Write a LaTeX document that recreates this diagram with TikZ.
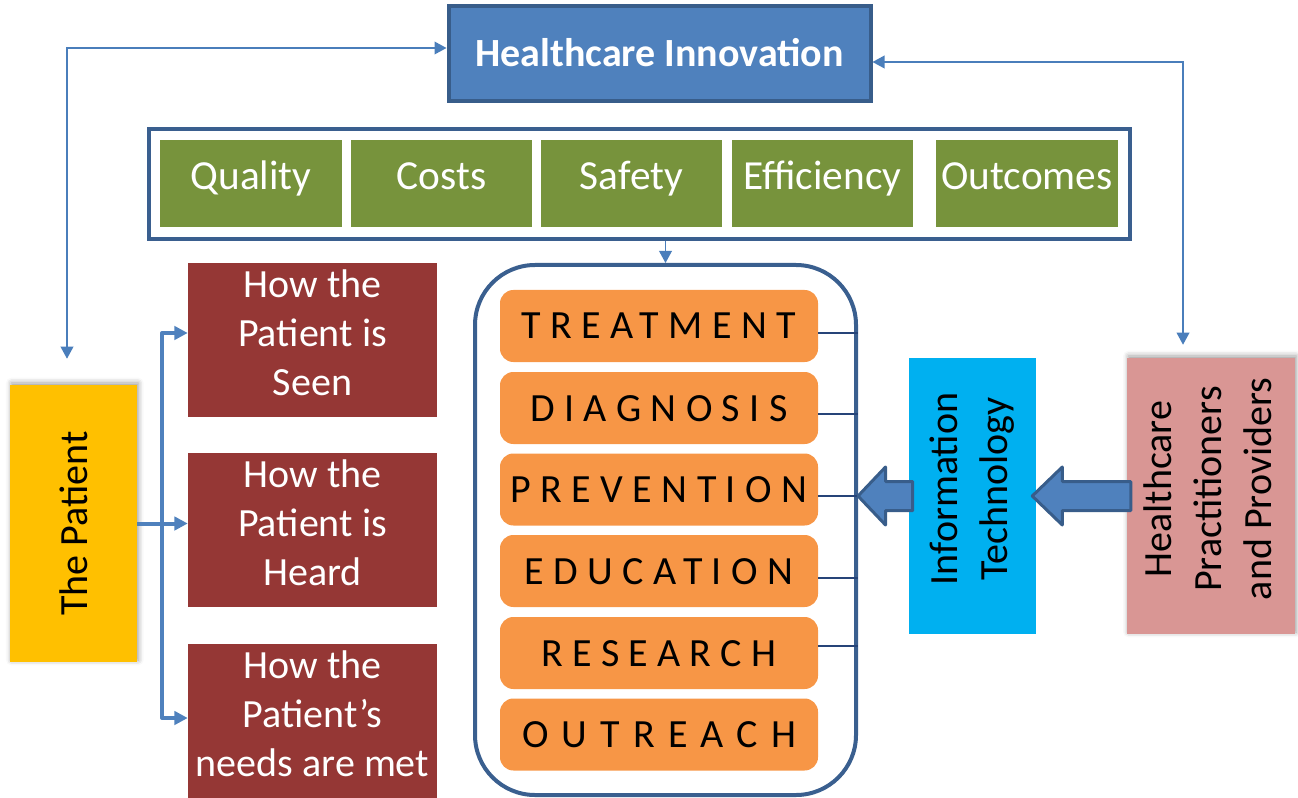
\documentclass[tikz,border=0pt]{standalone}
\usepackage{fontspec}
\setmainfont{Carlito}
\newfontfamily\spacedfont[LetterSpace=23.5]{Carlito}
\newfontfamily\widefont[LetterSpace=33]{Carlito}
\usetikzlibrary{arrows.meta,calc,shadows.blur}
\definecolor{hiblue}{HTML}{4F81BD}
\definecolor{darkblue}{HTML}{385D8A}
\definecolor{framecol}{HTML}{3A5F8F}
\definecolor{qgreen}{HTML}{77933C}
\definecolor{qred}{HTML}{953735}
\definecolor{qorange}{HTML}{F79646}
\definecolor{qcyan}{HTML}{00B0F0}
\definecolor{qpink}{HTML}{D99694}
\definecolor{qyellow}{HTML}{FFC000}
\definecolor{linecol}{HTML}{4A7EBB}
\definecolor{navyline}{HTML}{264478}
\tikzset{
  hibox/.style={fill=hiblue,draw=darkblue,line width=3pt,text=white,inner sep=0pt,
    font=\fontsize{30}{36}\selectfont\bfseries,text height=19.5pt,text depth=0pt},
  framebox/.style={draw=framecol,line width=3pt,fill=white,inner sep=0pt},
  metric/.style={fill=qgreen,text=white,font=\fontsize{31}{37}\selectfont,inner sep=0pt,
    text height=21pt,text depth=11.25pt,minimum height=87*0.75pt},
  bigbox/.style={draw=framecol,line width=3pt,rounded corners=45pt,inner sep=0pt},
  area/.style={fill=qorange,rounded corners=10pt,inner sep=0pt,
    minimum width=318*0.75pt,minimum height=72*0.75pt,
    font=\spacedfont\fontsize{30}{36}\selectfont,text height=19.5pt,text depth=0pt},
  widearea/.style={area,font=\widefont\fontsize{30}{36}\selectfont},
  howbox/.style={fill=qred,text=white,align=center,inner sep=0pt,
    minimum width=249*0.75pt,minimum height=154*0.75pt,
    font=\fontsize{30}{36.75}\selectfont,text depth=10.5pt},
  sidebox/.style={font=\fontsize{30}{37.5}\selectfont,inner sep=0pt},
  softshadow/.style={blur shadow={shadow xshift=1pt,shadow yshift=1.5pt,
    shadow blur radius=4pt,shadow opacity=40}},
  thinline/.style={draw=linecol,line width=1.1pt},
  thinboth/.style={thinline,arrows={Triangle[length=9pt,width=9.5pt]-Triangle[length=9pt,width=9.5pt]}},
  thinend/.style={thinline,arrows={-Triangle[length=9pt,width=9.5pt]}},
  fatline/.style={draw=hiblue,line width=3pt,line join=round},
  fatarrow/.style={fatline,arrows={-Triangle[length=10pt,width=10pt]}},
  blockarrow/.style={fill=hiblue,draw=darkblue,line width=2.25pt,line join=round},
  linkline/.style={draw=navyline,line width=1.1pt}
}
\begin{document}
\begin{tikzpicture}[x=0.75pt,y=-0.75pt]
\useasboundingbox (0,0) rectangle (1298,798);

% top box
\node[hibox,minimum width=422*0.75pt,minimum height=95*0.75pt] (hi) at (659.5,53.5) {Healthcare Innovation};

% metrics frame
\node[framebox,minimum width=980.5*0.75pt,minimum height=110*0.75pt] (frame) at (639.25,184) {};
\node[metric,minimum width=182*0.75pt] (m1) at (251,183.5) {Quality};
\node[metric,minimum width=181*0.75pt] (m2) at (441.5,183.5) {Costs};
\node[metric,minimum width=181*0.75pt] (m3) at (631.5,183.5) {Safety};
\node[metric,minimum width=181*0.75pt] (m4) at (822.5,183.5) {Efficiency};
\node[metric,minimum width=182*0.75pt] (m5) at (1027,183.5) {Outcomes};

% big rounded box with areas
\node[bigbox,minimum width=381*0.75pt,minimum height=530*0.75pt] (big) at (665.5,530) {};
\node[area] (o1) at (659,326) {TREATMENT};
\node[area] (o2) at (659,408) {DIAGNOSIS};
\node[area] (o3) at (659,489.5) {PREVENTION};
\node[area] (o4) at (659,571) {EDUCATION};
\node[area] (o5) at (659,653) {RESEARCH};
\node[widearea] (o6) at (659,734.5) {OUTREACH};

\coordinate (k1) at ($(o1.east)+(0,7)$);
\coordinate (k2) at ($(o2.east)+(0,6)$);
\coordinate (k3) at ($(o3.east)+(0,6.5)$);
\coordinate (k4) at ($(o4.east)+(0,7)$);
\coordinate (k5) at ($(o5.east)+(0,-7)$);
\draw[linkline] (k1) -- (k1 -| big.east);
\draw[linkline] (k2) -- (k2 -| big.east);
\draw[linkline] (k3) -- (k3 -| big.east);
\draw[linkline] (k4) -- (k4 -| big.east);
\draw[linkline] (k5) -- (k5 -| big.east);

\draw[thinend] (frame.south -| big.north) -- (big.north);

% side boxes
\node[sidebox,fill=qcyan,minimum width=127*0.75pt,minimum height=276*0.75pt] (it) at (972.5,496)
  {\rotatebox{90}{\begin{tabular}{@{\hspace{10.5pt}}c@{}}Information\\Technology\end{tabular}}};
\node[sidebox,fill=qpink,softshadow,minimum width=168*0.75pt,minimum height=276*0.75pt] (hp) at (1211,496)
  {\rotatebox{90}{\begin{tabular}{@{\hspace{10.5pt}}c@{}}Healthcare\\Practitioners\\and Providers\end{tabular}}};
\node[sidebox,fill=qyellow,softshadow,minimum width=127*0.75pt,minimum height=277*0.75pt] (pat) at (73.5,523.5)
  {\rotatebox{90}{The Patient}};

% red boxes
\node[howbox] (r1) at (312.5,340) {How the\\Patient is\\Seen};
\node[howbox] (r2) at (312.5,530) {How the\\Patient is\\Heard};
\node[howbox] (r3) at (312.5,720.5) {How the\\Patient’s\\needs are met};

% patient connectors
\coordinate (jtop) at (162,333);
\coordinate (jbot) at (162,718);
\draw[fatarrow] (jbot) -- (jtop) -- (jtop -| r1.west);
\draw[fatarrow] (jtop) -- (jbot) -- (jbot -| r3.west);
\draw[fatarrow] (pat.east) -- (pat.east -| r2.west);

% feedback arrows to Healthcare Innovation
\draw[thinboth] ($(pat.north)+(-6.5,-26)$) |- ($(hi.west)+(0,-5.5)$);
\draw[thinboth] ($(hi.east)+(0,8.5)$) -| ($(hp.north)+(-28,-13)$);

% block arrows
\draw[blockarrow] ($(hp.west)+(4,-14.5)$) -- ($(it.east)+(26,-14.5)$)
  -- ($(it.east)+(26,-29)$) -- ($(it.east)+(-4,0)$) -- ($(it.east)+(26,29)$)
  -- ($(it.east)+(26,14.5)$) -- ($(hp.west)+(4,14.5)$) -- cycle;
\coordinate (tipB) at (it.west -| big.east);
\draw[blockarrow] ($(it.west)+(4,-14.5)$) -- ($(tipB)+(27.5,-14.5)$)
  -- ($(tipB)+(27.5,-29)$) -- (tipB) -- ($(tipB)+(27.5,29)$)
  -- ($(tipB)+(27.5,14.5)$) -- ($(it.west)+(4,14.5)$) -- cycle;
\end{tikzpicture}
\end{document}
